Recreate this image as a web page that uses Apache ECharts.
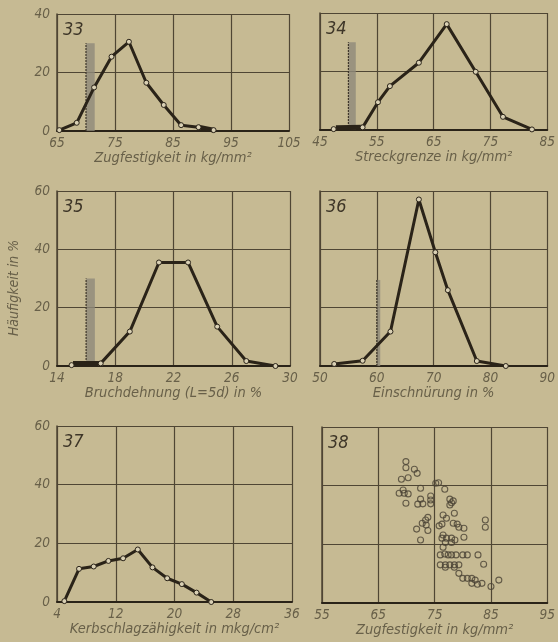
<!DOCTYPE html>
<html><head><meta charset="utf-8">
<script src="https://cdn.jsdelivr.net/npm/echarts@6/dist/echarts.min.js"></script>
<style>html,body{margin:0;padding:0;background:#c6ba93}#c{width:558px;height:642px}</style>
</head><body><div id="c"></div>
<script>
// ---- data ----
// 33 Zugfestigkeit
const zugX = [65.4,68.4,71.4,74.4,77.4,80.4,83.4,86.4,89.4,92];
const zugY = [0.3,2.8,14.9,25.4,30.5,16.5,8.9,2.0,1.3,0.3];
const zugBase = [[89.4,1.3],[92,0.3]];
const zugLimit = [70, 71.5, 30];
// 34 Streckgrenze
const strX = [47.4,52.5,55.2,57.3,62.4,67.3,72.4,77.2,82.3];
const strY = [0.3,0.9,9.5,15.0,23.0,36.2,19.9,4.5,0.2];
const strBase = [[47.8,0.8],[52.5,0.9]];
const strLimit = [50, 51.3, 30];
// 35 Bruchdehnung
const brX = [15,17,19,21,23,25,27,29];
const brY = [0.3,0.9,11.8,35.5,35.5,13.5,1.7,0];
const brBase = [[15.1,0.9],[17,0.9]];
const brLimit = [16, 16.6, 30];
// 36 Einschnürung
const einX = [52.5,57.5,62.4,67.4,70.3,72.5,77.6,82.7];
const einY = [0.7,1.8,11.8,57.1,39.0,26,1.7,0];
const einLimit = [60, 60.6, 29.5];
// 37 Kerbschlagzähigkeit
const kerbX = [5,7,9,11,13,15,17,19,21,23,25];
const kerbY = [0.3,11.3,12.1,14.0,14.9,17.9,11.8,8.1,6.1,3.2,0];
// 38 scatter
const scX = [69.9,69.9,71.4,71.9,69.1,70.3,72.5,69.4,68.7,69.6,70.3,69.9,72.5,72.0,72.9,74.3,74.3,74.3,75.2,75.7,76.8,77.7,78.0,77.7,78.3,78.5,73.8,73.4,72.8,73.5,73.8,71.8,72.5,76.5,77.1,75.8,76.3,78.3,79.0,79.3,80.2,80.2,84.0,84.0,76.5,77.1,76.3,78.0,78.6,76.9,78.0,76.5,76.0,76.8,77.4,78.0,78.8,80.0,80.8,82.7,76.0,76.9,77.7,78.5,79.3,83.7,76.9,78.5,79.3,80.0,80.8,81.6,82.2,81.6,82.6,83.4,86.4,85.0];
const scY = [48.2,46.1,45.6,44.2,42.2,42.7,39.1,38.5,37.4,37.4,37.2,34.0,35.4,33.7,33.8,36.5,35.1,33.8,40.8,41.0,38.8,35.4,34.2,33.4,34.8,30.6,29.2,28.3,27.2,26.6,24.7,25.2,21.5,30.0,28.9,26.3,26.9,27.2,26.9,25.8,25.5,22.4,28.3,25.8,23.2,22.1,22.1,22.1,21.5,20.6,20.6,19.0,16.4,16.7,16.4,16.4,16.4,16.4,16.4,16.4,13.0,13.0,13.0,13.0,13.0,13.2,12.2,12.2,10.1,8.4,8.4,8.4,7.8,6.7,6.4,6.7,7.8,5.6];

const xTitles = ['Zugfestigkeit in kg/mm²','Streckgrenze in kg/mm²','Bruchdehnung (L=5d) in %','Einschnürung in %','Kerbschlagzähigkeit in mkg/cm²','Zugfestigkeit in kg/mm²'];
const panelNames = ['33','34','35','36','37','38'];
const yTitle = 'Häufigkeit in %';

// ---- styling / layout ----
const FONT = "'Liberation Sans Narrow','DejaVu Sans Condensed',sans-serif";
const TXT = '#686049', GRID = '#4f4634', LINE = '#2a2318', BG = '#c6ba93';
const grids = [
  {left:57, top:14, width:232, height:117},
  {left:320, top:13, width:237, height:117},
  {left:57, top:191, width:233, height:175},
  {left:320, top:191, width:237, height:175},
  {left:57, top:426, width:235, height:176},
  {left:322, top:427, width:235, height:176}
];
const xr = [[65,105,10],[45,85,10],[14,30,4],[50,90,10],[4,36,8],[55,95,10]];
const yr = [[0,40],[0,40],[0,60],[0,60],[0,60],[0,60]];
const showY = [true,false,true,false,true,false];

const zip = (a,b) => a.map((v,i)=>[v,b[i]]);

const xAxis = xr.map((r,i)=>({
  type:'value', gridIndex:i, min:r[0], max:r[1], interval:r[2],
  axisLine:{show:true, onZero:false, lineStyle:{color:LINE, width:2}},
  axisTick:{show:false},
  splitLine:{show:true, lineStyle:{color:GRID, width:1.2}},
  axisLabel:{color:TXT, fontSize:13.5, fontStyle:'italic', fontFamily:FONT, margin:5, showMinLabel:true, showMaxLabel:true},
  name:xTitles[i], nameLocation:'middle', nameGap:20,
  nameTextStyle:{color:TXT, fontSize:14.5, fontStyle:'italic', fontFamily:FONT, verticalAlign:'top'}
}));
const yAxis = yr.map((r,i)=>({
  type:'value', gridIndex:i, min:r[0], max:r[1], interval:20,
  axisLine:{show:true, lineStyle:{color:GRID, width:1.5}},
  axisTick:{show:false},
  splitLine:{show:true, lineStyle:{color:GRID, width:1.2}},
  axisLabel:{show:showY[i], color:TXT, fontSize:13.5, fontStyle:'italic', fontFamily:FONT, margin:7}
}));

function lineSeries(i, x, y){
  return {type:'line', xAxisIndex:i, yAxisIndex:i, data:zip(x,y),
    lineStyle:{color:LINE, width:3}, symbol:'circle', symbolSize:5,
    itemStyle:{color:'#d9d0b4', borderColor:LINE, borderWidth:1}, z:5, animation:false};
}
function baseSeries(i, d){
  return {type:'line', xAxisIndex:i, yAxisIndex:i, data:d, symbol:'none',
    lineStyle:{color:LINE, width:5}, z:4, animation:false};
}
function limitSeries(i, lim){
  return {type:'custom', xAxisIndex:i, yAxisIndex:i, data:[lim], z:3, animation:false,
    encode:{x:[0,1], y:2},
    renderItem:function(params, api){
      const p0 = api.coord([api.value(0), 0]);
      const p1 = api.coord([api.value(1), api.value(2)]);
      return {type:'group', children:[
        {type:'rect', shape:{x:p0[0], y:p1[1], width:p1[0]-p0[0], height:p0[1]-p1[1]},
         style:{fill:'#8f897a', opacity:0.8}},
        {type:'line', shape:{x1:p0[0], y1:p0[1], x2:p0[0], y2:p1[1]},
         style:{stroke:'#3e362a', lineWidth:1.2, lineDash:[2,1]}}
      ]};
    }};
}

const series = [
  limitSeries(0, zugLimit), baseSeries(0, zugBase), lineSeries(0, zugX, zugY),
  limitSeries(1, strLimit), baseSeries(1, strBase), lineSeries(1, strX, strY),
  limitSeries(2, brLimit), baseSeries(2, brBase), lineSeries(2, brX, brY),
  limitSeries(3, einLimit), lineSeries(3, einX, einY),
  lineSeries(4, kerbX, kerbY),
  {type:'scatter', xAxisIndex:5, yAxisIndex:5, data:zip(scX, scY), symbol:'circle', symbolSize:6,
   itemStyle:{color:'rgba(0,0,0,0)', borderColor:'#4a4234', borderWidth:1.1}, animation:false}
];

const graphic = grids.map((g,i)=>({
  type:'text', left:g.left+6, top:g.top+7,
  style:{text:panelNames[i], fill:'#3e3628', font:"italic 18px " + FONT}
}));
graphic.push({type:'text', x:14, y:288, rotation:Math.PI/2,
  style:{text:yTitle, fill:TXT, font:"italic 14px " + FONT, align:'center', verticalAlign:'middle'}});

const chart = echarts.init(document.getElementById('c'), null, {renderer:'canvas'});
chart.setOption({
  backgroundColor:BG, animation:false,
  grid:grids, xAxis:xAxis, yAxis:yAxis, series:series, graphic:graphic
});
</script></body></html>
